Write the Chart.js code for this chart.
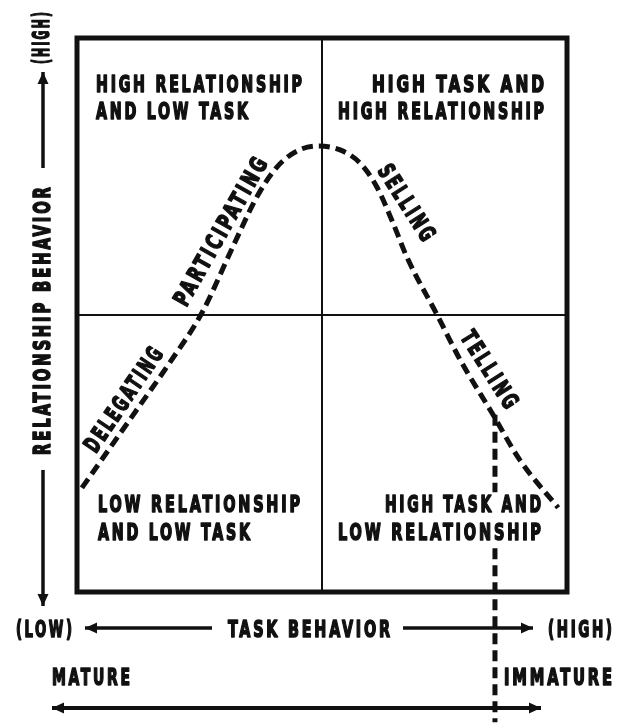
<!DOCTYPE html>
<html>
<head>
<meta charset="utf-8">
<script src="https://cdn.jsdelivr.net/npm/chart.js@4"></script>
<style>
  html, body { margin: 0; padding: 0; background: #fff; }
  #wrap { width: 623px; height: 724px; position: relative; }
</style>
</head>
<body>
<div id="wrap"><canvas id="leadershipChart"></canvas></div>
<script>
  // 曲線（タスク行動 x 関係行動）
  const curveTask = [0.10, 1.22, 1.90, 2.55, 3.18, 3.67, 4.08, 4.49, 4.92, 5.37, 5.78, 6.12, 6.45, 6.73, 7.35, 7.82, 8.47, 9.04, 9.82];
  const curveRelationship = [1.88, 3.29, 4.15, 5.04, 6.23, 7.13, 7.67, 7.96, 8.05, 7.98, 7.74, 7.31, 6.66, 6.05, 5.00, 4.19, 3.23, 2.38, 1.52];
  // 成熟度の縦線（途中で文字の下は切れる）
  const readinessTask = [8.53, 8.53, 8.53, 8.53, 8.53];
  const readinessRelationship = [3.20, 1.80, null, 0.79, -2.35];
  const quadrantSplit = 5;

  const quadrantLabels = [
    ['HIGH RELATIONSHIP', 'AND LOW TASK'],
    ['HIGH TASK AND', 'HIGH RELATIONSHIP'],
    ['LOW RELATIONSHIP', 'AND LOW TASK'],
    ['HIGH TASK AND', 'LOW RELATIONSHIP']
  ];
  const styleLabels = ['DELEGATING', 'PARTICIPATING', 'SELLING', 'TELLING'];
  const axisLabels = { x: 'TASK BEHAVIOR', y: 'RELATIONSHIP BEHAVIOR', low: '(LOW)', high: '(HIGH)' };
  const maturityLabels = ['MATURE', 'IMMATURE'];

  const toPoints = (xs, ys) => xs.map((x, i) => ({ x: x, y: ys[i] }));

  const FONT = "bold 23px 'DejaVu Sans Condensed', 'Liberation Sans Narrow', 'DejaVu Sans', sans-serif";

  // 文字を指定幅に合わせて描画（太めにする）
  function drawLabel(ctx, text, x, y, w, align, angle) {
    ctx.save();
    ctx.translate(x, y);
    if (angle) ctx.rotate(angle * Math.PI / 180);
    ctx.font = FONT;
    ctx.letterSpacing = '4px';
    const nat = ctx.measureText(text).width - 4;
    ctx.scale(w / nat, 1);
    ctx.textBaseline = 'middle';
    ctx.textAlign = 'left';
    ctx.fillStyle = '#111';
    ctx.strokeStyle = '#111';
    ctx.lineWidth = 1.6;
    ctx.lineJoin = 'round';
    let start = -nat / 2;
    if (align === 'left') start = 0;
    if (align === 'right') start = -nat;
    ctx.fillText(text, start, 1);
    ctx.strokeText(text, start, 1);
    ctx.restore();
  }

  function arrowHead(ctx, x, y, dx, dy) {
    const len = 12, half = 5.5;
    const px = -dy, py = dx;
    ctx.beginPath();
    ctx.moveTo(x, y);
    ctx.lineTo(x - dx * len + px * half, y - dy * len + py * half);
    ctx.lineTo(x - dx * len - px * half, y - dy * len - py * half);
    ctx.closePath();
    ctx.fill();
  }

  function arrow(ctx, x1, y1, x2, y2, both) {
    const d = Math.hypot(x2 - x1, y2 - y1);
    const dx = (x2 - x1) / d, dy = (y2 - y1) / d;
    ctx.beginPath();
    ctx.moveTo(x1, y1);
    ctx.lineTo(x2, y2);
    ctx.stroke();
    arrowHead(ctx, x2, y2, dx, dy);
    if (both) arrowHead(ctx, x1, y1, -dx, -dy);
  }

  const framePlugin = {
    id: 'frame',
    beforeDatasetsDraw(chart) {
      const { ctx, chartArea: a, scales } = chart;
      const mx = scales.x.getPixelForValue(quadrantSplit);
      const my = scales.y.getPixelForValue(quadrantSplit);
      ctx.save();
      ctx.strokeStyle = '#111';
      ctx.lineWidth = 2;
      ctx.beginPath();
      ctx.moveTo(mx, a.top); ctx.lineTo(mx, a.bottom);
      ctx.moveTo(a.left, my); ctx.lineTo(a.right, my);
      ctx.stroke();
      ctx.lineWidth = 5;
      ctx.strokeRect(a.left, a.top, a.right - a.left, a.bottom - a.top);
      ctx.restore();
    },
    afterDatasetsDraw(chart) {
      const ctx = chart.ctx;
      ctx.save();
      // 象限ラベル
      drawLabel(ctx, quadrantLabels[0][0], 96, 85, 206, 'left');
      drawLabel(ctx, quadrantLabels[0][1], 96, 112, 152, 'left');
      drawLabel(ctx, quadrantLabels[1][0], 544, 85, 172, 'right');
      drawLabel(ctx, quadrantLabels[1][1], 544, 112, 206, 'right');
      drawLabel(ctx, quadrantLabels[2][0], 98, 505, 202, 'left');
      drawLabel(ctx, quadrantLabels[2][1], 98, 533, 152, 'left');
      drawLabel(ctx, quadrantLabels[3][0], 541, 505, 156, 'right');
      drawLabel(ctx, quadrantLabels[3][1], 541, 533, 203, 'right');
      // リーダーシップ・スタイル
      drawLabel(ctx, styleLabels[0], 124, 400, 121, 'center', -55.8);
      drawLabel(ctx, styleLabels[1], 221, 232, 166, 'center', -60.5);
      drawLabel(ctx, styleLabels[2], 406, 203, 86, 'center', 57.5);
      drawLabel(ctx, styleLabels[3], 489, 370, 87, 'center', 57.6);
      // 軸ラベル
      drawLabel(ctx, axisLabels.low, 16, 630, 56, 'left');
      drawLabel(ctx, axisLabels.x, 309, 630, 162, 'center');
      drawLabel(ctx, axisLabels.high, 612, 630, 64, 'right');
      drawLabel(ctx, axisLabels.high, 42, 38, 52, 'center', -90);
      drawLabel(ctx, axisLabels.y, 43, 321, 268, 'center', -90);
      drawLabel(ctx, maturityLabels[0], 52, 678, 78, 'left');
      drawLabel(ctx, maturityLabels[1], 612, 678, 108, 'right');
      // 矢印
      ctx.strokeStyle = '#111';
      ctx.fillStyle = '#111';
      ctx.lineWidth = 3.5;
      arrow(ctx, 43, 168, 43, 72);
      arrow(ctx, 43, 470, 43, 606);
      arrow(ctx, 212, 628, 85, 628);
      arrow(ctx, 403, 628, 533, 628);
      ctx.lineWidth = 4;
      arrow(ctx, 52, 708, 541, 708, true);
      ctx.restore();
    }
  };

  const ctx = document.getElementById('leadershipChart').getContext('2d');
  const chart = new Chart(ctx, {
    type: 'scatter',
    data: {
      datasets: [
        {
          data: toPoints(curveTask, curveRelationship),
          showLine: true,
          borderColor: '#111',
          borderWidth: 5,
          borderDash: [11, 6],
          cubicInterpolationMode: 'monotone',
          pointRadius: 0,
          clip: false
        },
        {
          data: toPoints(readinessTask, readinessRelationship),
          showLine: true,
          spanGaps: false,
          borderColor: '#111',
          borderWidth: 5,
          borderDash: [11, 6],
          tension: 0,
          pointRadius: 0,
          clip: false
        }
      ]
    },
    options: {
      responsive: true,
      maintainAspectRatio: false,
      animation: false,
      layout: { padding: { left: 77, right: 56, top: 38, bottom: 132 } },
      plugins: { legend: { display: false }, tooltip: { enabled: false } },
      scales: {
        x: { type: 'linear', min: 0, max: 10, display: false },
        y: { type: 'linear', min: 0, max: 10, display: false }
      }
    },
    plugins: [framePlugin]
  });
</script>
</body>
</html>
